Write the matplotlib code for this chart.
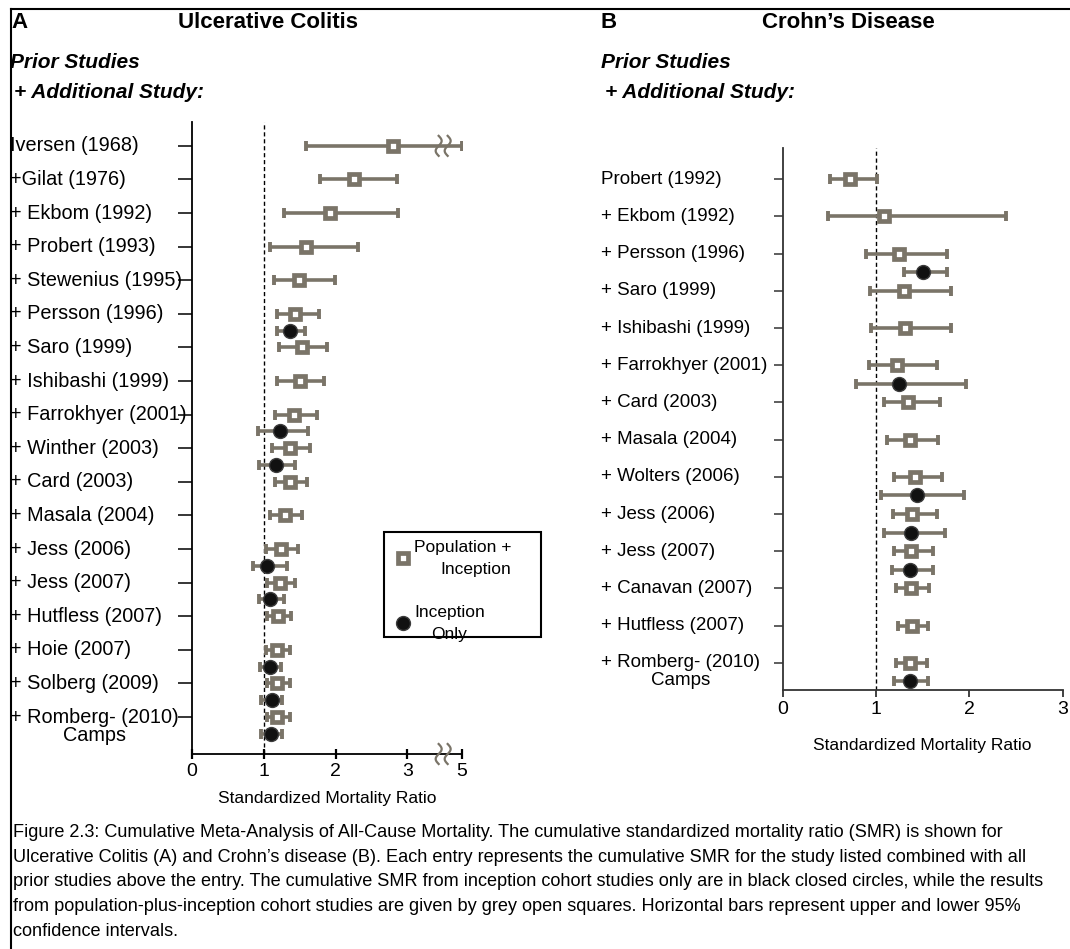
import numpy as np
import matplotlib.pyplot as plt
import matplotlib.transforms as mtransforms
from matplotlib.lines import Line2D
from matplotlib.patches import Rectangle

plt.rcParams['font.family'] = ['Liberation Sans', 'DejaVu Sans']

# ---- Panel A: Ulcerative Colitis (cumulative SMR, population + inception) ----
uc_studies = ['Iversen (1968)', '+Gilat (1976)', '+ Ekbom (1992)', '+ Probert (1993)',
              '+ Stewenius (1995)', '+ Persson (1996)', '+ Saro (1999)', '+ Ishibashi (1999)',
              '+ Farrokhyer (2001)', '+ Winther (2003)', '+ Card (2003)', '+ Masala (2004)',
              '+ Jess (2006)', '+ Jess (2007)', '+ Hutfless (2007)', '+ Hoie (2007)',
              '+ Solberg (2009)', '+ Romberg- (2010)\nCamps']
uc_pop_smr = [2.80, 2.26, 1.92, 1.59, 1.49, 1.44, 1.53, 1.50, 1.42, 1.36, 1.36, 1.30,
              1.24, 1.23, 1.20, 1.19, 1.18, 1.19]
uc_pop_lo = [1.59, 1.79, 1.28, 1.08, 1.14, 1.18, 1.21, 1.19, 1.16, 1.12, 1.16, 1.08,
             1.03, 1.04, 1.04, 1.03, 1.04, 1.04]
uc_pop_hi = [5.00, 2.86, 2.87, 2.32, 1.99, 1.77, 1.88, 1.84, 1.74, 1.64, 1.60, 1.53,
             1.48, 1.43, 1.38, 1.36, 1.36, 1.36]
# inception-only results, listed by study row
uc_inc_rows = [5, 8, 9, 12, 13, 15, 16, 17]
uc_inc_smr = [1.37, 1.22, 1.17, 1.05, 1.09, 1.09, 1.11, 1.10]
uc_inc_lo = [1.19, 0.92, 0.93, 0.85, 0.93, 0.95, 0.96, 0.96]
uc_inc_hi = [1.57, 1.62, 1.43, 1.33, 1.28, 1.24, 1.26, 1.26]

# ---- Panel B: Crohn's Disease ----
cd_studies = ['Probert (1992)', '+ Ekbom (1992)', '+ Persson (1996)', '+ Saro (1999)',
              '+ Ishibashi (1999)', '+ Farrokhyer (2001)', '+ Card (2003)', '+ Masala (2004)',
              '+ Wolters (2006)', '+ Jess (2006)', '+ Jess (2007)', '+ Canavan (2007)',
              '+ Hutfless (2007)', '+ Romberg- (2010)\nCamps']
cd_pop_smr = [0.72, 1.09, 1.25, 1.30, 1.31, 1.22, 1.34, 1.36, 1.42, 1.39, 1.37, 1.37, 1.38, 1.36]
cd_pop_lo = [0.51, 0.49, 0.89, 0.93, 0.95, 0.92, 1.08, 1.12, 1.19, 1.18, 1.19, 1.21, 1.23, 1.21]
cd_pop_hi = [1.01, 2.39, 1.76, 1.80, 1.80, 1.65, 1.68, 1.66, 1.71, 1.65, 1.61, 1.57, 1.56, 1.55]
cd_inc_rows = [2, 5, 8, 9, 10, 13]
cd_inc_smr = [1.50, 1.25, 1.44, 1.37, 1.36, 1.36]
cd_inc_lo = [1.30, 0.79, 1.05, 1.09, 1.17, 1.19]
cd_inc_hi = [1.76, 1.96, 1.94, 1.74, 1.61, 1.56]

caption = ("Figure 2.3: Cumulative Meta-Analysis of All-Cause Mortality. The cumulative standardized mortality ratio (SMR) is shown for\n"
           "Ulcerative Colitis (A) and Crohn\u2019s disease (B). Each entry represents the cumulative SMR for the study listed combined with all\n"
           "prior studies above the entry. The cumulative SMR from inception cohort studies only are in black closed circles, while the results\n"
           "from population-plus-inception cohort studies are given by grey open squares. Horizontal bars represent upper and lower 95%\n"
           "confidence intervals.")

GREY = '#7a7468'
W, H = 1070, 949
BREAK, SQUEEZE = 3.5, 0.175


def fwd(x):
    x = np.asarray(x, float)
    return np.where(x <= BREAK, x, BREAK + (x - BREAK) * SQUEEZE)


def inv(x):
    x = np.asarray(x, float)
    return np.where(x <= BREAK, x, BREAK + (x - BREAK) / SQUEEZE)


fig = plt.figure(figsize=(W / 100, H / 100), dpi=100)
axA = fig.add_axes([192 / W, 1 - 754 / H, 270 / W, 632 / H])
axB = fig.add_axes([782.7 / W, 1 - 690 / H, 280 / W, 542 / H])


def forest(ax, pop_smr, pop_lo, pop_hi, inc_rows, inc_smr, inc_lo, inc_hi):
    pop_smr, pop_lo, pop_hi = map(np.array, (pop_smr, pop_lo, pop_hi))
    inc_smr, inc_lo, inc_hi = map(np.array, (inc_smr, inc_lo, inc_hi))
    rows = np.arange(len(pop_smr))
    irows = np.array(inc_rows) + 0.5
    ax.axvline(1, color='k', lw=1.0, ls=(0, (3, 2)), zorder=1)
    ebar = dict(fmt='none', ecolor=GREY, elinewidth=2.6, capsize=3.5, capthick=2.8, zorder=2)
    ax.errorbar(pop_smr, rows, xerr=[pop_smr - pop_lo, pop_hi - pop_smr], **ebar)
    ax.errorbar(inc_smr, irows, xerr=[inc_smr - inc_lo, inc_hi - inc_smr], **ebar)
    sq, = ax.plot(pop_smr, rows, ls='none', marker='s', ms=6.6, mew=3.4, mfc='white',
                  mec=GREY, zorder=3, label='Population +\nInception')
    ci, = ax.plot(inc_smr, irows, ls='none', marker='o', ms=10, mew=1.0, mfc='#111111',
                  mec='#3c3c3c', zorder=4, label='Inception\nOnly')
    ax.spines[['top', 'right']].set_visible(False)
    ax.set_yticks(rows)
    ax.set_yticklabels([])
    return sq, ci


def study_labels(ax, labels, x_px, size):
    trans = mtransforms.blended_transform_factory(fig.transFigure, ax.transData)
    renderer = fig.canvas.get_renderer()
    for i, lab in enumerate(labels):
        parts = lab.split('\n')
        t = ax.text(x_px / W, i, parts[0], transform=trans, ha='left', va='center',
                    fontsize=size)
        if len(parts) > 1:
            bb = t.get_window_extent(renderer=renderer)
            cx = fig.transFigure.inverted().transform(((bb.x0 + bb.x1) / 2, 0))[0]
            ax.annotate(parts[1], xy=(cx, i), xycoords=trans, xytext=(0, -13),
                        textcoords='offset points', ha='center', va='center', fontsize=size)


def break_mark(ax, xa, anchor_trans, ya):
    t = np.linspace(-1, 1, 25)
    for dx in (-0.045, 0.045):
        xs = dx + 0.03 * np.sin(np.pi * t)
        ys = 0.1 * t
        tr = fig.dpi_scale_trans + mtransforms.ScaledTranslation(xa, ya, anchor_trans)
        ax.add_line(Line2D(xs, ys, transform=tr, color=GREY, lw=1.6, clip_on=False, zorder=5))


# Panel A
sq, ci = forest(axA, uc_pop_smr, uc_pop_lo, uc_pop_hi, uc_inc_rows, uc_inc_smr, uc_inc_lo, uc_inc_hi)
axA.set_xscale('function', functions=(fwd, inv))
axA.set_xlim(0, 5)
axA.set_ylim(18.1, -0.71)
axA.set_xticks([0, 1, 2, 3, 5])
axA.tick_params(axis='y', direction='out', length=10, width=1.1)
axA.tick_params(axis='x', direction='inout', length=7, width=1.6, labelsize=14, pad=3)
for s in axA.spines.values():
    s.set_linewidth(1.3)
axA.set_xlabel('Standardized Mortality Ratio', fontsize=12.5, labelpad=8)
study_labels(axA, uc_studies, 10, 14.3)
fb = float(fwd(BREAK) / fwd(5))
break_mark(axA, fb, axA.transAxes, 0)
break_mark(axA, fb, mtransforms.blended_transform_factory(axA.transAxes, axA.transData), 0)

# legend: entries from the plotted markers, box drawn around them
leg = axA.legend(handles=[sq, ci], loc='upper left', bbox_to_anchor=(397 / W, 1 - 540 / H),
                 bbox_transform=fig.transFigure, fontsize=12.5, frameon=False,
                 handlelength=0.7, handletextpad=0.28, labelspacing=1.65, borderpad=0,
                 borderaxespad=0)
for txt, ma in zip(leg.get_texts(), ('right', 'center')):
    txt.set_multialignment(ma)
    txt.set_linespacing(1.55)
fig.add_artist(Rectangle((384 / W, 1 - 637 / H), 157 / W, 105 / H, transform=fig.transFigure,
                         fill=False, edgecolor='k', lw=1.5))

# Panel B
forest(axB, cd_pop_smr, cd_pop_lo, cd_pop_hi, cd_inc_rows, cd_inc_smr, cd_inc_lo, cd_inc_hi)
axB.set_xlim(0, 3)
axB.set_ylim(13.73, -0.84)
axB.set_xticks([0, 1, 2, 3])
axB.tick_params(axis='y', direction='out', length=6.5, width=1.1, color='#333333')
axB.tick_params(axis='x', direction='out', length=5, width=1.3, labelsize=14, pad=3,
                color='#333333')
for s in axB.spines.values():
    s.set_linewidth(1.3)
    s.set_color('#333333')
axB.set_xlabel('Standardized Mortality Ratio', fontsize=12.5, labelpad=14)
study_labels(axB, cd_studies, 601, 13.5)

# Headings
fig.text(11 / W, 1 - 22 / H, 'A', fontsize=16, fontweight='bold', ha='left', va='center')
fig.text(268 / W, 1 - 22 / H, 'Ulcerative Colitis', fontsize=16, fontweight='bold',
         ha='center', va='center')
fig.text(600 / W, 1 - 22 / H, 'B', fontsize=16, fontweight='bold', ha='left', va='center')
fig.text(848 / W, 1 - 22 / H, 'Crohn\u2019s Disease', fontsize=16, fontweight='bold',
         ha='center', va='center')
for x0 in (10, 601):
    fig.text(x0 / W, 1 - 62 / H, 'Prior Studies', fontsize=15, fontweight='bold',
             style='italic', ha='left', va='center')
    fig.text((x0 + 4) / W, 1 - 93 / H, '+ Additional Study:', fontsize=15,
             fontweight='bold', style='italic', ha='left', va='center')

fig.text(13 / W, 1 - 824 / H, caption, fontsize=13.1, ha='left', va='top', linespacing=1.59)

# frame around the figure
fig.add_artist(Line2D([11 / W, 11 / W], [0, 1 - 9 / H], transform=fig.transFigure, color='k', lw=1.5))
fig.add_artist(Line2D([11 / W, 1], [1 - 9 / H, 1 - 9 / H], transform=fig.transFigure, color='k', lw=1.5))

fig.savefig('out.png', dpi=100)
